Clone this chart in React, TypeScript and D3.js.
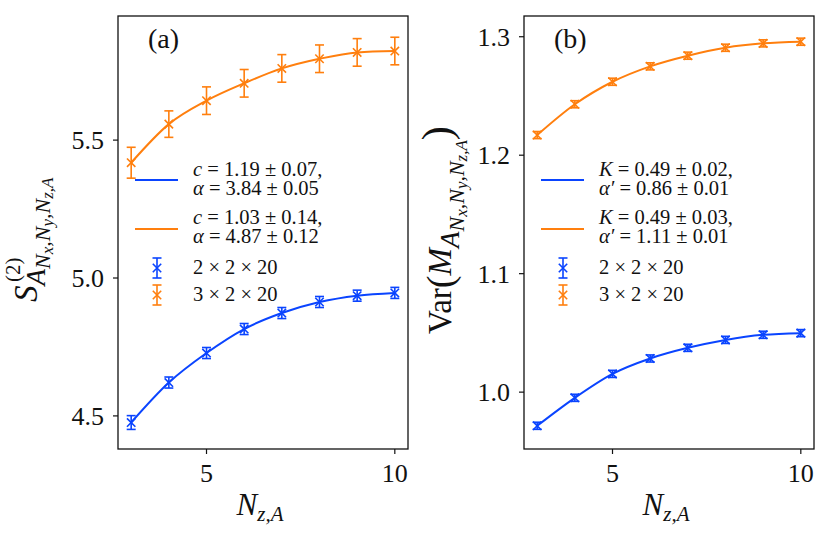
import React from 'react';
import * as d3 from 'd3';

// ---------- data ----------
const nz = [3, 4, 5, 6, 7, 8, 9, 10];

const entropy2x2 = [4.476, 4.621, 4.728, 4.815, 4.873, 4.913, 4.936, 4.946];
const entropy2x2Err = [0.025, 0.02, 0.02, 0.02, 0.02, 0.02, 0.02, 0.02];
const entropy3x2 = [5.418, 5.558, 5.643, 5.706, 5.760, 5.795, 5.818, 5.823];
const entropy3x2Err = [0.056, 0.048, 0.05, 0.05, 0.05, 0.05, 0.05, 0.05];

const var2x2 = [0.9716, 0.9952, 1.0154, 1.0284, 1.0374, 1.0441, 1.0484, 1.0498];
const var2x2Err = [0.003, 0.003, 0.003, 0.003, 0.003, 0.003, 0.003, 0.003];
const var3x2 = [1.217, 1.243, 1.262, 1.275, 1.284, 1.2907, 1.2944, 1.2958];
const var3x2Err = [0.003, 0.003, 0.003, 0.003, 0.003, 0.003, 0.003, 0.003];

const xTicks = [5, 10];
const yTicksA = [4.5, 5.0, 5.5];
const yTicksB = [1.0, 1.1, 1.2, 1.3];

const seriesNames = ['2 × 2 × 20', '3 × 2 × 20'];
const fitA = [
  ['c', '1.19', '0.07', 'α', '3.84', '0.05'],
  ['c', '1.03', '0.14', 'α', '4.87', '0.12'],
];
const fitB = [
  ['K', '0.49', '0.02', 'α′', '0.86', '0.01'],
  ['K', '0.49', '0.03', 'α′', '1.11', '0.01'],
];

// ---------- styles ----------
const BLUE = '#0a44ff';
const ORANGE = '#ff7f0e';
const FONT = '"Liberation Serif", "DejaVu Serif", serif';

type PanelProps = {
  left: number; right: number; top: number; bottom: number;
  yDomain: [number, number];
  yTicks: number[];
  yFmt: (v: number) => string;
  s1: number[]; e1: number[]; s2: number[]; e2: number[];
  fit: string[][];
  tag: string;
};

function Marker({ x, y, size = 4.2, color }: { x: number; y: number; size?: number; color: string }) {
  return (
    <path
      d={`M${x - size},${y - size}L${x + size},${y + size}M${x - size},${y + size}L${x + size},${y - size}`}
      stroke={color}
      strokeWidth={1.6}
      fill="none"
    />
  );
}

function ErrBar({ x, y0, y1, color }: { x: number; y0: number; y1: number; color: string }) {
  const c = 4.5;
  return (
    <g stroke={color} strokeWidth={1.6}>
      <line x1={x} x2={x} y1={y0} y2={y1} />
      <line x1={x - c} x2={x + c} y1={y0} y2={y0} />
      <line x1={x - c} x2={x + c} y1={y1} y2={y1} />
    </g>
  );
}

function SubChain({ big = 27, mid = 22, small = 17 }: { big?: number; mid?: number; small?: number }) {
  return (
    <>
      <tspan fontStyle="italic" fontSize={big} dy={8}>A</tspan>
      <tspan fontStyle="italic" fontSize={mid} dy={5}>N</tspan>
      <tspan fontStyle="italic" fontSize={small} dy={3}>x</tspan>
      <tspan fontStyle="italic" fontSize={mid} dy={-3}>,N</tspan>
      <tspan fontStyle="italic" fontSize={small} dy={3}>y</tspan>
      <tspan fontStyle="italic" fontSize={mid} dy={-3}>,N</tspan>
      <tspan fontStyle="italic" fontSize={small} dy={3}>z,A</tspan>
    </>
  );
}

function Panel(p: PanelProps) {
  const x = d3.scaleLinear().domain([2.65, 10.35]).range([p.left, p.right]);
  const y = d3.scaleLinear().domain(p.yDomain).range([p.bottom, p.top]);
  const line = d3
    .line<number>()
    .x((_, i) => x(nz[i]))
    .y((d) => y(d))
    .curve(d3.curveMonotoneX);

  const series = [
    { v: p.s1, e: p.e1, c: BLUE },
    { v: p.s2, e: p.e2, c: ORANGE },
  ];

  const lx1 = p.left + 17;
  const lx2 = p.left + 60;
  const tx = p.left + 75;
  const mx = p.left + 39;

  return (
    <g fontFamily={FONT} fill="#111">
      {series.map((s, k) => (
        <g key={k}>
          <path d={line(s.v) || ''} stroke={s.c} strokeWidth={2} fill="none" />
          {s.v.map((v, i) => (
            <g key={i}>
              <ErrBar x={x(nz[i])} y0={y(v - s.e[i])} y1={y(v + s.e[i])} color={s.c} />
              <Marker x={x(nz[i])} y={y(v)} color={s.c} />
            </g>
          ))}
        </g>
      ))}

      {/* frame */}
      <rect
        x={p.left}
        y={p.top}
        width={p.right - p.left}
        height={p.bottom - p.top}
        fill="none"
        stroke="#111"
        strokeWidth={1.3}
      />

      {/* x ticks */}
      {xTicks.map((t) => (
        <g key={t}>
          <line x1={x(t)} x2={x(t)} y1={p.bottom} y2={p.bottom + 5} stroke="#111" strokeWidth={1.2} />
          <text x={x(t)} y={p.bottom + 33} fontSize={26} textAnchor="middle">
            {t}
          </text>
        </g>
      ))}
      {/* y ticks */}
      {p.yTicks.map((t) => (
        <g key={t}>
          <line x1={p.left - 5} x2={p.left} y1={y(t)} y2={y(t)} stroke="#111" strokeWidth={1.2} />
          <text x={p.left - 14} y={y(t) + 9} fontSize={26} textAnchor="end">
            {p.yFmt(t)}
          </text>
        </g>
      ))}

      {/* x label */}
      <text x={(p.left + p.right) / 2 - 3} y={515} fontSize={31} textAnchor="middle">
        <tspan fontStyle="italic">N</tspan>
        <tspan fontSize={21} dy={6} fontStyle="italic">z,A</tspan>
      </text>

      {/* panel tag */}
      <text x={p.left + 30} y={48} fontSize={28}>
        {p.tag}
      </text>

      {/* legend: fit lines */}
      {p.fit.map((f, k) => {
        const ly = [180, 229][k];
        const b1 = [176, 224][k];
        const c = k === 0 ? BLUE : ORANGE;
        return (
          <g key={k}>
            <line x1={lx1} x2={lx2} y1={ly} y2={ly} stroke={c} strokeWidth={2} />
            <text x={tx} y={b1} fontSize={20.5}>
              <tspan fontStyle="italic">{f[0]}</tspan>
              <tspan>{' = ' + f[1] + ' ± ' + f[2] + ','}</tspan>
              <tspan x={tx} dy={19} fontStyle="italic">{f[3]}</tspan>
              <tspan>{' = ' + f[4] + ' ± ' + f[5]}</tspan>
            </text>
          </g>
        );
      })}
      {/* legend: data markers */}
      {seriesNames.map((n, k) => {
        const my = [268, 295][k];
        const c = k === 0 ? BLUE : ORANGE;
        return (
          <g key={n}>
            <ErrBar x={mx} y0={my - 10} y1={my + 10} color={c} />
            <Marker x={mx} y={my} color={c} />
            <text x={tx} y={my + 6} fontSize={20.5}>
              {n}
            </text>
          </g>
        );
      })}
    </g>
  );
}

export default function App() {
  return (
    <svg
      width={831}
      height={535}
      style={{ position: 'absolute', left: 0, top: 0, background: '#fff' }}
    >
      <rect width={831} height={535} fill="#fff" />
      <Panel
        left={118}
        right={408}
        top={16}
        bottom={449}
        yDomain={[4.38, 5.95]}
        yTicks={yTicksA}
        yFmt={(v) => v.toFixed(1)}
        s1={entropy2x2}
        e1={entropy2x2Err}
        s2={entropy3x2}
        e2={entropy3x2Err}
        fit={fitA}
        tag="(a)"
      />
      <Panel
        left={524}
        right={814}
        top={16}
        bottom={449}
        yDomain={[0.952, 1.3175]}
        yTicks={yTicksB}
        yFmt={(v) => v.toFixed(1)}
        s1={var2x2}
        e1={var2x2Err}
        s2={var3x2}
        e2={var3x2Err}
        fit={fitB}
        tag="(b)"
      />

      {/* y label (a) */}
      <g transform="translate(37,302) rotate(-90)" fontFamily={FONT} fill="#111">
        <text x={20} y={-17} fontSize={21}>
          (2)
        </text>
        <text x={0} y={0} fontSize={33}>
          <tspan fontStyle="italic">S</tspan>
          <SubChain />
        </text>
      </g>

      {/* y label (b) */}
      <g transform="translate(451,334) rotate(-90)" fontFamily={FONT} fill="#111">
        <text x={0} y={0} fontSize={33}>
          Var
          <tspan fontSize={38} dy={2}>(</tspan>
          <tspan fontStyle="italic" fontSize={33} dy={-2}>M</tspan>
          <SubChain />
          <tspan fontSize={42} dy={-16}>)</tspan>
        </text>
      </g>
    </svg>
  );
}
